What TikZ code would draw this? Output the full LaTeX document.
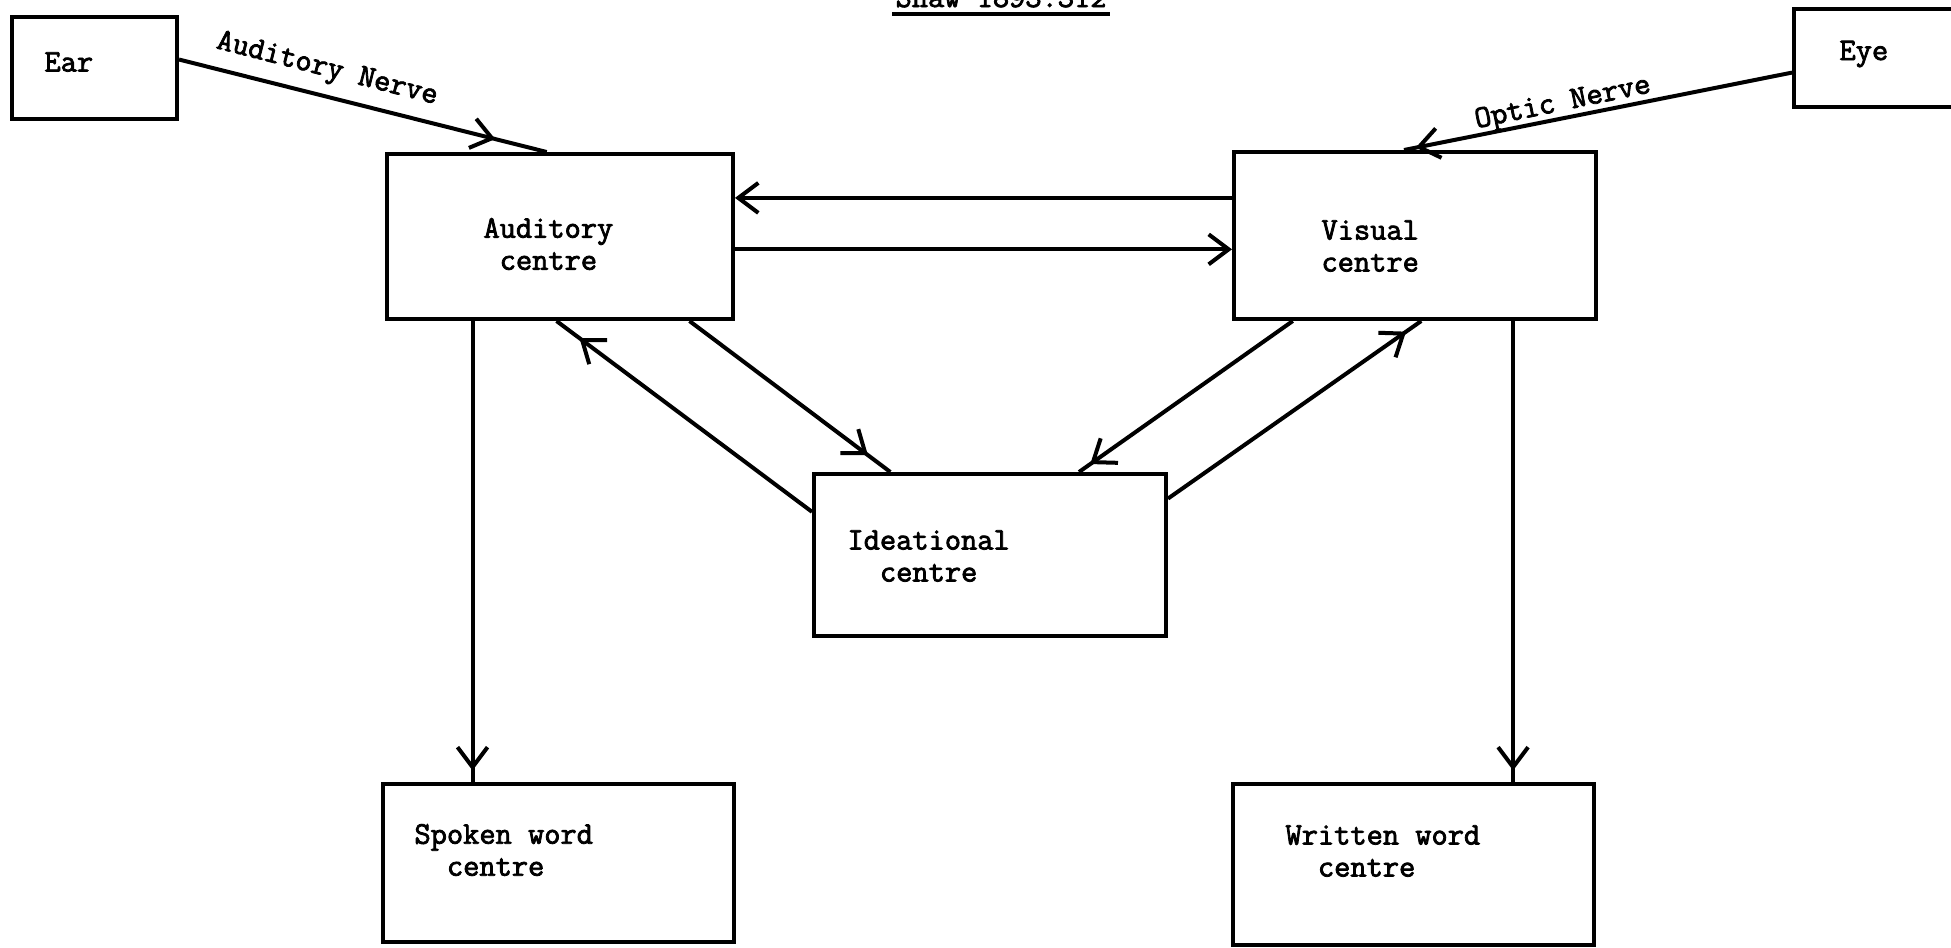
\documentclass[tikz,border=0pt]{standalone}
\usepackage{fontspec}
\newfontfamily\tw{Latin Modern Mono}[FakeBold=2.5]
\usetikzlibrary{arrows.meta,calc,decorations.markings}

\begin{document}
\begin{tikzpicture}[x=0.4pt,y=-0.4pt,
  box/.style={draw, inner sep=0pt, line width=1.6pt},
  lbl/.style={font=\tw\fontsize{12.6}{12.8}\selectfont, inner sep=0pt, align=left},
  link/.style={line width=1.6pt},
  tip/.style={postaction={decorate}, decoration={markings,
      mark=at position #1 with {\arrow{Straight Barb[length=8pt,width=12pt]}}}},
  endtip/.style={-{Straight Barb[length=8pt,width=12pt]}}]

\useasboundingbox (0,0) rectangle (1951,947);
\clip (0,0) rectangle (1951,947);

% title, cut at the top edge
\node[lbl, anchor=base] (title) at (1001,7) {Shaw 1893:312};
\draw[line width=1.5pt] (892,14) -- (1110,14);

% boxes
\node[box, minimum width=165*0.4pt, minimum height=102*0.4pt] (ear) at (94.5,68) {};
\node[box, minimum width=186*0.4pt, minimum height=98*0.4pt] (eye) at (1887,58) {};
\node[box, minimum width=346*0.4pt, minimum height=165*0.4pt] (aud) at (560,236.5) {};
\node[box, minimum width=362*0.4pt, minimum height=167*0.4pt] (vis) at (1415,235.5) {};
\node[box, minimum width=352*0.4pt, minimum height=162*0.4pt] (idea) at (990,555) {};
\node[box, minimum width=351*0.4pt, minimum height=158*0.4pt] (spk) at (558.5,863) {};
\node[box, minimum width=361*0.4pt, minimum height=161*0.4pt] (wrt) at (1413.5,864.5) {};

% box texts
\node[lbl, anchor=west] (eartxt) at (44,62) {Ear};
\node[lbl, anchor=west] (eyetxt) at (1839,54) {Eye};
\node[lbl, anchor=west] (audtxt) at (483,244) {Auditory\\\hphantom{A}centre};
\node[lbl, anchor=west] (vistxt) at (1321,246) {Visual\\centre};
\node[lbl, anchor=west] (ideatxt) at (847,556) {Ideational\\\hphantom{Id}centre};
\node[lbl, anchor=west] (spktxt) at (414,850) {Spoken word\\\hphantom{Sp}centre};
\node[lbl, anchor=west] (wrttxt) at (1285,851) {Written word\\\hphantom{Wr}centre};

% nerve labels
\node[lbl, rotate=-14.3] (audnerve) at (327,70) {Auditory Nerve};
\node[lbl, rotate=11.6] (optnerve) at (1563,104) {Optic Nerve};

% connectors
\draw[link, tip=0.86] ($(ear.north east)!0.42!(ear.south east)$) -- ($(aud.north west)!0.462!(aud.north east)$);
\draw[link, tip=0.97] ($(eye.north west)!0.643!(eye.south west)$) -- ($(vis.north west)!0.47!(vis.north east)$);
\draw[link, endtip] ($(vis.north west)!0.28!(vis.south west)$) coordinate (h1) -- (h1 -| aud.east);
\draw[link, endtip] ($(aud.north east)!0.576!(aud.south east)$) coordinate (h2) -- (h2 -| vis.west);
\draw[link, tip=0.91] ($(idea.north west)!0.24!(idea.south west)$) -- ($(aud.south west)!0.49!(aud.south east)$);
\draw[link, tip=0.89] ($(aud.south west)!0.87!(aud.south east)$) -- ($(idea.north west)!0.22!(idea.north east)$);
\draw[link, tip=0.95] ($(vis.south west)!0.166!(vis.south east)$) -- ($(idea.north west)!0.75!(idea.north east)$);
\draw[link, tip=0.94] ($(idea.north east)!0.16!(idea.south east)$) -- ($(vis.south west)!0.517!(vis.south east)$);
\draw[link, tip=0.975] ($(aud.south west)!0.25!(aud.south east)$) coordinate (v1) -- (v1 |- spk.north);
\draw[link, tip=0.975] ($(vis.south west)!0.768!(vis.south east)$) coordinate (v2) -- (v2 |- wrt.north);
\end{tikzpicture}
\end{document}
